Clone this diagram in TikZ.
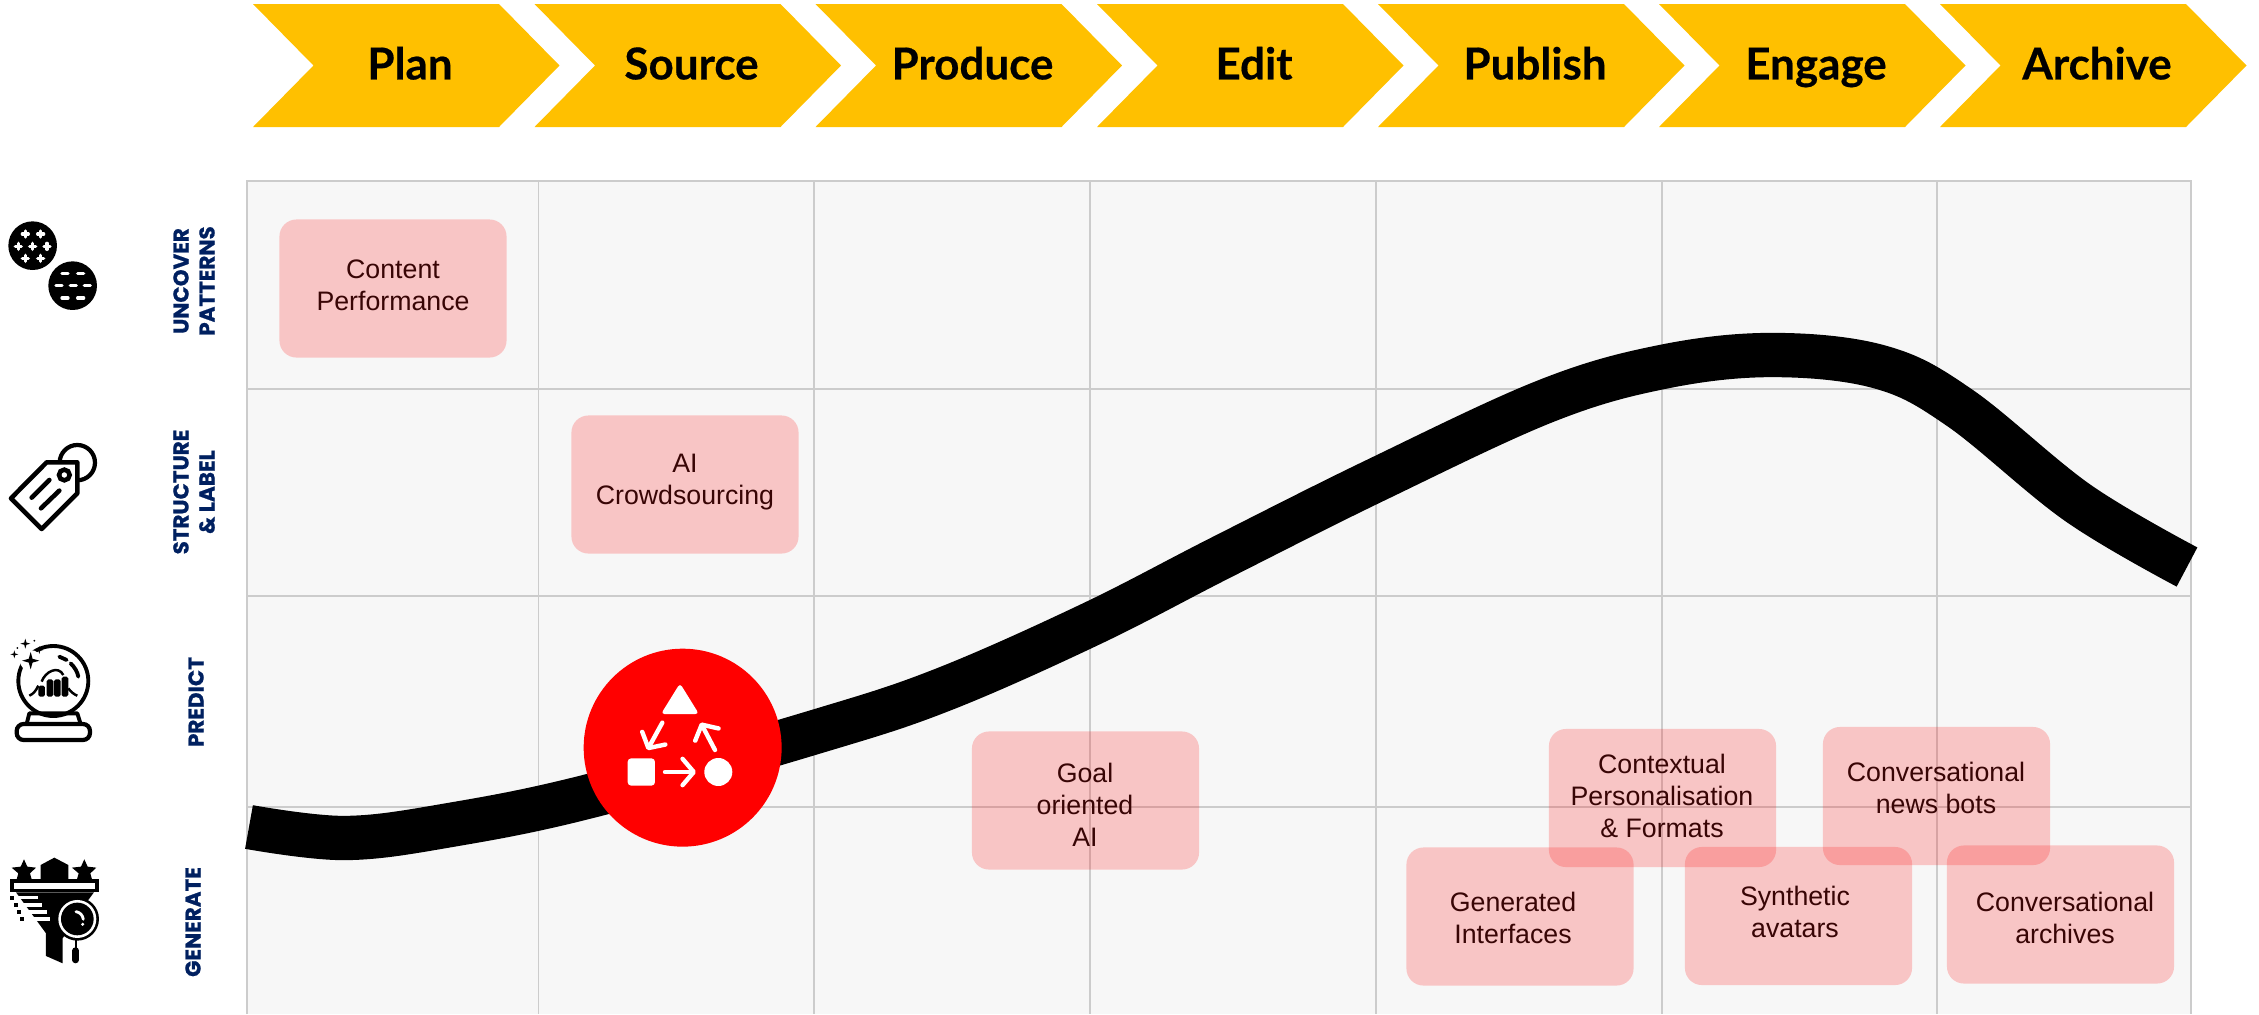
\documentclass[tikz,border=0pt]{standalone}
\usepackage{fontspec}
\setmainfont{Liberation Sans}
\newfontfamily\stagefont[BoldFeatures={FakeBold=.4}]{Lato}
\newfontfamily\rowfont[BoldFeatures={FakeBold=.8}]{Poppins}
\usetikzlibrary{arrows.meta}
\definecolor{stagecolor}{HTML}{FFC000}
\definecolor{navycolor}{HTML}{002060}
\definecolor{gridcolor}{HTML}{CCCCCC}
\definecolor{panelcolor}{HTML}{F7F7F7}
\definecolor{boxcolor}{RGB}{255,20,20}
\definecolor{boxtextcolor}{HTML}{380505}
\tikzset{
stagelabel/.style={font=\fontsize{12.5}{15}\selectfont\stagefont\bfseries, text=black, text height=9pt, text depth=2.5pt},
rowlabel/.style={rotate=90, align=center, text=navycolor, inner sep=0pt, font=\fontsize{6.1}{7.4}\selectfont\rowfont\bfseries},
casebox/.style={fill=boxcolor, fill opacity=.22, rounded corners=.17cm, minimum width=2.27cm, minimum height=1.38cm, inner sep=0pt},
casetext/.style={align=center, text=boxtextcolor, inner sep=0pt, font=\fontsize{7.6}{9.1}\selectfont},
badgearrow/.style={white, line width=1.25pt, line cap=round, -{Straight Barb[length=3.2pt, width=7.5pt, round]}},
}
\newcommand{\sparkle}[3]{\fill (#1-#3,#2) -- (#1-.22*#3,#2-.22*#3) -- (#1,#2-#3) -- (#1+.22*#3,#2-.22*#3) -- (#1+#3,#2) -- (#1+.22*#3,#2+.22*#3) -- (#1,#2+#3) -- (#1-.22*#3,#2+.22*#3) -- cycle;}
\begin{document}
\begin{tikzpicture}[x=.01cm, y=-.01cm]
\useasboundingbox (0,0) rectangle (2259,1014);

\foreach \x/\name/\tag in {253/Plan/plan, 534.5/Source/source, 815.5/Produce/produce, 1097/Edit/edit, 1378/Publish/publish, 1659/Engage/engage, 1940/Archive/archive}{
\fill[stagecolor] (\x,4) -- ++(246,0) -- ++(60.5,61.5) -- ++(-60.5,61.5) -- ++(-246,0) -- ++(60.5,-61.5) -- cycle;
\node[stagelabel] (\tag) at (\x+157,68) {\name};
}

\fill[panelcolor] (247,181) rectangle (2191,1014);
\draw[gridcolor, line width=.5pt] (247,1014) -- (247,181) -- (2191,181) -- (2191,1014);
\foreach \x in {538.5,814,1090,1376,1662,1937}{
\draw[gridcolor, line width=.45pt] (\x,181) -- (\x,1014);
}
\foreach \y in {389,596,807}{
\draw[gridcolor, line width=.45pt] (247,\y) -- (2191,\y);
}

\node[rowlabel] (uncover) at (194,281) {UNCOVER\\PATTERNS};
\node[rowlabel] (structure) at (194,492) {STRUCTURE\\\& LABEL};
\node[rowlabel] (predict) at (196,702) {PREDICT};
\node[rowlabel] (generate) at (193,922) {GENERATE};

\draw[black, line width=12.6pt] plot[smooth, tension=.6] coordinates {(249,827) (345,838) (450,825) (590,796) (815,732) (942,690) (1091,624) (1222,557) (1376,480) (1546,401) (1662,367) (1772,355) (1880,367) (1960,408) (2078,503) (2187,567)};

% red badge
\begin{scope}[shift={(560,630)}, scale=.3333]
\fill[red] (368,353) circle[radius=297];
\fill[white, rounded corners=1pt] (360,160) -- (417,252) -- (303,252) -- cycle;
\fill[white, rounded corners=1pt] (203,385) rectangle (285,467);
\fill[white] (475,426) circle[radius=42];
\draw[badgearrow] (307,278) -- (262,360);
\draw[badgearrow] (465,360) -- (422,278);
\draw[badgearrow] (315,426) -- (408,426);
\end{scope}

\node[casebox] (contentbox) at (393,288.5) {};
\node[casetext] (content) at (393,285) {Content\\Performance};
\node[casebox] (crowdbox) at (685,484.5) {};
\node[casetext] (crowd) at (685,482) {AI\\Crowdsourcing};
\node[casebox] (goalbox) at (1085.5,800.5) {};
\node[casetext] (goal) at (1085,805) {Goal\\oriented\\AI};
\node[casebox] (contextbox) at (1662.5,798) {};
\node[casetext] (context) at (1662,796) {Contextual\\Personalisation\\\& Formats};
\node[casebox] (newsbox) at (1936.5,796) {};
\node[casetext] (news) at (1936,788) {Conversational\\news bots};
\node[casebox] (interfacebox) at (1520,916.5) {};
\node[casetext] (interface) at (1513,918) {Generated\\Interfaces};
\node[casebox] (avatarbox) at (1798.5,916) {};
\node[casetext] (avatar) at (1795,912) {Synthetic\\avatars};
\node[casebox] (archivebox) at (2060.5,914.5) {};
\node[casetext] (archives) at (2065,918) {Conversational\\archives};

% patterns icon
\begin{scope}[shift={(0,180)}, scale=.3333]
\fill[black] (98,197) circle[radius=73];
\fill[black] (218,317) circle[radius=73];
\foreach \x/\y in {76/162,122/162,55/199,98/199,141/199,76/235,122/235}{
\draw[white, line width=.95pt, line cap=round] (\x-9,\y) -- (\x+9,\y) (\x,\y-9) -- (\x,\y+9);
}
\foreach \x/\y in {195/281,242/281,177/317,220/317,262/317,195/354,242/354}{
\draw[white, line width=.95pt, line cap=round] (\x-9,\y) -- (\x+9,\y);
}
\end{scope}

% tag icon
\begin{scope}[shift={(0,180)}, scale=.3333]
\draw[black, line width=1.2pt] (232,848) circle[radius=53];
\draw[black, fill=white, line width=1.3pt, line join=round] (33,955) -- (140,847) -- (232,847) -- (232,940) -- (125,1047) -- cycle;
\draw[black, line width=1.3pt] (193,885) circle[radius=16];
\draw[black, line width=1.3pt, line cap=round] (95,953) -- (148,900);
\draw[black, line width=1.3pt, line cap=round] (123,985) -- (178,932);
\end{scope}

% crystal ball icon
\begin{scope}[shift={(0,600)}, scale=.3333]
\draw[black, line width=1.1pt] (160,243) circle[radius=105];
\draw[black, line width=1.1pt, line cap=round] (178,170) -- (200,180);
\draw[black, line width=1.1pt, line cap=round] (212,190) .. controls (225,203) and (232,215) .. (235,230);
\draw[black, line width=1.1pt, line join=round] (80,372) -- (88,340) -- (232,340) -- (242,372);
\draw[black, line width=1.2pt, rounded corners=2pt] (50,372) rectangle (270,420);
\foreach \x/\y in {115/257,140/238,162/238,185/230}{
\fill[black, rounded corners=.5pt] (\x,\y) rectangle (\x+20,290);
}
\draw[black, line width=.7pt] (88,287) .. controls (100,282) and (108,272) .. (115,257);
\draw[black, line width=.7pt] (125,245) .. controls (135,215) and (175,195) .. (190,225);
\draw[black, line width=.7pt] (205,265) .. controls (212,275) and (220,282) .. (232,287);
\fill[white] (92,182) circle[radius=32];
\sparkle{92}{182}{26}
\sparkle{76}{131}{15}
\sparkle{43}{163}{12}
\sparkle{118}{150}{12}
\fill[black] (103,122) circle[radius=3];
\fill[black] (52,144) circle[radius=3];
\end{scope}

% funnel icon
\begin{scope}[shift={(0,600)}, scale=.3333]
\fill[black] (72,778) -- (82,800) -- (108,803) -- (90,820) -- (95,838) -- (50,838) -- (55,820) -- (35,803) -- (62,800) -- cycle;
\fill[black] (253,778) -- (263,800) -- (289,803) -- (271,820) -- (276,838) -- (231,838) -- (236,820) -- (216,803) -- (243,800) -- cycle;
\fill[black] (122,838) -- (122,795) -- (163,773) -- (205,795) -- (205,838) -- cycle;
\fill[black] (30,838) rectangle (296,877);
\fill[white] (42,850) rectangle (285,868);
\fill[black] (48,877) -- (282,877) -- (250,920) -- (188,1015) -- (188,1090) -- (138,1068) -- (138,1000) -- cycle;
\foreach \x/\y in {48/888,60/910,75/931,85/952}{
\fill[white] (\x-10,\y) rectangle (\x+65,\y+10);
}
\foreach \x/\y in {37/893,47/915,57/937,67/958}{
\fill[black] (\x-6,\y-6) rectangle (\x+6,\y+6);
}
\fill[black] (232,957) circle[radius=65];
\fill[white] (232,957) circle[radius=57];
\fill[black] (232,957) circle[radius=49];
\draw[white, line width=.8pt, line cap=round] (228,935) .. controls (240,937) and (248,945) .. (250,958);
\fill[white] (248,973) circle[radius=5];
\fill[black] (224,1018) rectangle (232,1045);
\draw[black, line width=1.9pt, line cap=round] (227,1052) -- (227,1080);
\end{scope}
\end{tikzpicture}
\end{document}
